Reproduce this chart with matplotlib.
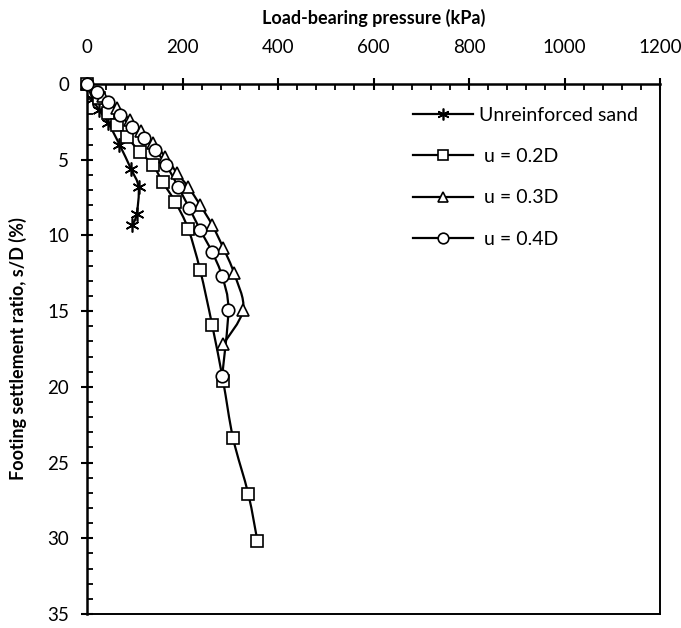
import numpy as np
import matplotlib
matplotlib.use("Agg")
import matplotlib.pyplot as plt
from matplotlib.path import Path
from matplotlib.patches import PathPatch
from matplotlib.lines import Line2D
from matplotlib.ticker import MultipleLocator

plt.rcParams['font.family'] = ['Lato', 'DejaVu Sans']

# load-bearing pressure (kPa) and settlement ratio s/D (%)
unreinf_q = [0, 12, 25, 45, 68, 92, 108, 104, 95]
unreinf_s = [0, 1.0, 1.7, 2.6, 4.0, 5.6, 6.8, 8.6, 9.3]

u02_q = [0, 25, 44, 63, 84, 111, 138, 159, 185, 212, 237, 262, 285, 306, 338, 357]
u02_s = [0, 0.92, 1.9, 2.7, 3.5, 4.5, 5.35, 6.5, 7.8, 9.57, 12.3, 15.9, 19.6, 23.4, 27.1, 30.2]

u03_q = [0, 34, 63, 90, 113, 138, 164, 189, 212, 237, 262, 285, 308, 327, 285]
u03_s = [0, 0.79, 1.58, 2.37, 3.1, 3.9, 4.8, 5.9, 6.8, 8.0, 9.3, 10.8, 12.5, 14.9, 17.2]

u04_q = [0, 21, 44, 69, 94, 120, 143, 166, 191, 214, 237, 262, 283, 296, 283]
u04_s = [0, 0.53, 1.19, 2.05, 2.84, 3.56, 4.35, 5.35, 6.8, 8.18, 9.63, 11.1, 12.7, 14.9, 19.3]

labels = ['Unreinforced sand', ' u = 0.2D', ' u = 0.3D', ' u = 0.4D']


def smooth_path(xs, ys):
    # Excel-like smoothed line: cubic Bezier segments through the points
    p = np.column_stack([xs, ys]).astype(float)
    n = len(p)
    verts = [p[0]]
    codes = [Path.MOVETO]
    for i in range(n - 1):
        p0 = p[i - 1] if i > 0 else p[i]
        p3 = p[i + 2] if i + 2 < n else p[i + 1]
        c1 = p[i] + (p[i + 1] - p0) / 6.0
        c2 = p[i + 1] - (p3 - p[i]) / 6.0
        verts += [c1, c2, p[i + 1]]
        codes += [Path.CURVE4] * 3
    return Path(verts, codes)


fig = plt.figure(figsize=(6.81, 6.28), dpi=100)
ax = fig.add_axes([87 / 681, 1 - 614 / 628, 573 / 681, 530 / 628])

series = [
    (unreinf_q, unreinf_s, dict(marker=(6, 2, 0), ms=10)),
    (u02_q, u02_s, dict(marker='s', ms=8.5)),
    (u03_q, u03_s, dict(marker='^', ms=9)),
    (u04_q, u04_s, dict(marker='o', ms=9)),
]

handles = []
for (q, s, mk), lab in zip(series, labels):
    ax.add_patch(PathPatch(smooth_path(q, s), fill=False, edgecolor='black', lw=1.6, zorder=2))
    ax.plot(q, s, linestyle='none', mfc='white', mec='black', mew=1.2, zorder=3,
            clip_on=False, **mk)
    handles.append(Line2D([], [], color='black', lw=1.6, mfc='white', mec='black', mew=1.2,
                          marker=mk['marker'], ms=mk['ms'] * 0.85, label=lab))

ax.set_xlim(0, 1200)
ax.set_ylim(35, 0)
ax.xaxis.tick_top()
ax.xaxis.set_label_position('top')
ax.xaxis.set_major_locator(MultipleLocator(200))
ax.xaxis.set_minor_locator(MultipleLocator(40))
ax.yaxis.set_major_locator(MultipleLocator(5))
ax.yaxis.set_minor_locator(MultipleLocator(1))

ax.tick_params(which='major', direction='inout', length=8, width=1.5, labelsize=13.5)
ax.tick_params(which='minor', direction='in', length=4, width=1.3)
ax.tick_params(axis='x', which='major', pad=16)
ax.tick_params(axis='y', which='major', pad=9)

for side in ['left', 'top']:
    ax.spines[side].set_linewidth(1.8)
for side in ['right', 'bottom']:
    ax.spines[side].set_linewidth(1.4)

ax.set_xlabel('Load-bearing pressure (kPa)', fontsize=13, fontweight='bold', labelpad=11)
ax.set_ylabel('Footing settlement ratio, s/D (%)', fontsize=13, fontweight='bold', labelpad=14)

ax.legend(handles=handles, loc='upper left', bbox_to_anchor=(0.569, 0.957), frameon=False,
          fontsize=14, borderaxespad=0, borderpad=0, labelspacing=1.25,
          handlelength=3.1, handletextpad=0.3)

fig.savefig('out.png', dpi=100)
